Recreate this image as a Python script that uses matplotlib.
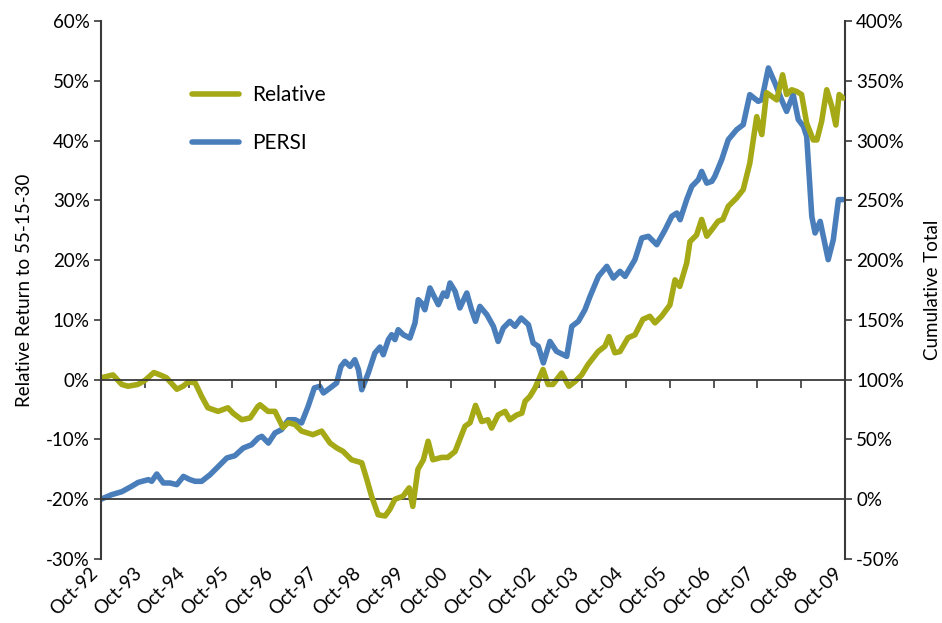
import matplotlib
matplotlib.use("Agg")
import matplotlib.pyplot as plt
from matplotlib.ticker import FuncFormatter, MultipleLocator

plt.rcParams['font.family'] = ['Lato', 'DejaVu Sans']

# months since Oct-92 and relative return to 55-15-30 (%), left axis
rel_month = [0, 3.3, 5.7, 7.4, 10.1, 12.1, 14.5, 16.6, 18, 20.8, 22.5, 23.9, 25.8,
             27.6, 29.3, 32.1, 34.8, 36.2, 38.6, 40.9, 43, 43.6, 45.8, 47.7, 49.9,
             51.3, 53.2, 55, 58.1, 60.5, 62.8, 64.6, 66.4, 68.7, 71.5, 72.9, 74.2,
             76, 77.9, 79.2, 80.6, 82.8, 84.5, 85.5, 86.9, 88.4, 89.7, 91, 93.4,
             95.1, 97.1, 99.8, 101.2, 102.7, 104.4, 106.1, 107.1, 108.9, 110.8,
             112.1, 114, 115.4, 116.3, 117.6, 119, 121.2, 122.6, 123.9, 126.3,
             128.3, 130, 131.8, 133.5, 136.3, 138.2, 139.3, 140.9, 142.3, 144.5,
             146.4, 148.6, 150.5, 151.9, 153.7, 156, 157.4, 158.7, 160.6, 161.5,
             163.3, 164.7, 166.1, 167.5, 169.2, 170.5, 172, 174.3, 176.1, 177.9,
             179.8, 181.2, 182.5, 183.9, 185.3, 186.9, 188, 189.4, 190.8, 192.1,
             193.5, 195.3, 196.3, 197.6, 199, 200.4, 201.5, 202.4, 203.5]
rel_value = [0.3, 0.8, -0.8, -1.1, -0.8, -0.1, 1.2, 0.7, 0.3, -1.6, -1.1, -0.4, -0.5,
             -2.8, -4.7, -5.3, -4.7, -5.6, -6.7, -6.4, -4.5, -4.2, -5.3, -5.3, -8.0,
             -7.2, -7.5, -8.6, -9.2, -8.6, -10.6, -11.4, -12.0, -13.4, -13.9, -16.7,
             -19.5, -22.6, -22.8, -21.7, -20.0, -19.5, -18.1, -21.2, -15.0, -13.4,
             -10.3, -13.4, -13.0, -13.0, -12.0, -7.8, -7.2, -4.3, -7.0, -6.7, -8.1,
             -5.9, -5.3, -6.7, -5.9, -5.6, -3.6, -2.8, -1.4, 1.7, -0.8, -0.8, 1.1,
             -1.1, -0.3, 0.8, 2.5, 4.7, 5.6, 7.2, 4.5, 4.7, 7.0, 7.5, 10.1, 10.6,
             9.5, 10.6, 12.5, 16.7, 15.6, 19.5, 23.1, 24.2, 26.8, 24.0, 25.1, 26.5,
             26.8, 29.0, 30.4, 31.8, 36.2, 44.0, 41.0, 48.0, 47.4, 46.8, 51.0, 47.7,
             48.5, 48.2, 47.7, 42.9, 40.1, 40.1, 43.2, 48.5, 45.7, 42.6, 47.7, 47.1]

# months since Oct-92 and PERSI cumulative total (%), right axis
persi_month = [0, 2.9, 5.7, 8.4, 10.2, 13, 13.9, 15.3, 17.1, 18.9, 20.8, 22.6, 24.4,
               25.8, 27.6, 29.9, 32.2, 34.5, 36.7, 39, 41.3, 43.1, 44.1, 45.9, 47.7,
               49.5, 51.4, 53.2, 55, 56.8, 58.5, 60, 61, 62.8, 64.6, 65.8, 66.9, 68.3,
               69.6, 70.6, 71.5, 73.3, 75.1, 76.5, 77.4, 78.8, 79.7, 80.6, 81.5, 82.9,
               84.7, 86.1, 87, 87.9, 88.8, 90.2, 91.1, 92.5, 93.9, 94.8, 95.7, 97.1,
               98.4, 100.3, 101.6, 102.7, 103.9, 105.8, 107.6, 108.9, 110.3, 112.1,
               113.5, 115.2, 117.2, 118.5, 119.9, 121.3, 123.1, 124.9, 127.7, 129.1,
               130.9, 132.7, 134.1, 136.4, 138.7, 140.5, 142.3, 143.7, 146.4, 148.3,
               150.1, 152.4, 154.7, 156.5, 157.9, 158.8, 160.6, 162, 163.8, 164.7,
               166.1, 167.5, 168.3, 170.2, 172, 174.3, 176.1, 177.9, 180.2, 181.2,
               183, 184.8, 186.6, 188, 189.8, 191.2, 192.6, 193.5, 194.9, 195.8,
               197.2, 199.4, 200.8, 202.2, 203.5]
persi_value = [0.0, 3.8, 6.3, 10.8, 14.1, 16.4, 15.0, 21.1, 13.6, 13.6, 12.2, 19.1,
               16.4, 15.0, 15.0, 20.5, 27.5, 34.5, 36.4, 42.8, 45.6, 51.2, 52.6, 47.0,
               55.4, 58.2, 66.5, 66.5, 63.8, 77.7, 93.1, 94.4, 88.9, 93.0, 97.2, 111.1,
               115.3, 111.1, 116.7, 108.4, 91.6, 105.6, 122.3, 127.3, 120.9, 133.5,
               137.6, 133.5, 141.8, 137.6, 134.8, 147.4, 166.9, 164.1, 158.5, 176.7,
               171.1, 162.7, 172.5, 169.7, 180.9, 173.9, 160.0, 172.5, 158.5, 148.8,
               161.3, 154.4, 144.6, 132.0, 143.2, 148.8, 144.6, 151.6, 146.0, 130.7,
               127.9, 114.0, 132.0, 123.7, 119.5, 144.6, 148.8, 158.5, 169.7, 186.4,
               194.8, 185.0, 190.6, 186.4, 200.4, 218.5, 219.9, 212.9, 225.5, 236.6,
               239.4, 233.8, 250.6, 261.7, 267.3, 274.2, 264.4, 265.9, 270.0, 284.0,
               300.7, 309.1, 313.3, 338.4, 332.8, 334.2, 360.7, 348.1, 334.2, 324.4,
               338.4, 317.5, 311.9, 303.5, 236.6, 222.7, 232.4, 200.4, 217.1, 250.6,
               250.6]

tick_labels = ['Oct-92', 'Oct-93', 'Oct-94', 'Oct-95', 'Oct-96', 'Oct-97', 'Oct-98',
               'Oct-99', 'Oct-00', 'Oct-01', 'Oct-02', 'Oct-03', 'Oct-04', 'Oct-05',
               'Oct-06', 'Oct-07', 'Oct-08', 'Oct-09']

START = 1992.75
GREEN = '#A5A915'
BLUE = '#4A7EBB'
DARK = '#3a3a3a'
FS = 13.5

rel_x = [START + m / 12 for m in rel_month]
persi_x = [START + m / 12 for m in persi_month]
ticks = [START + i for i in range(len(tick_labels))]

fig = plt.figure(figsize=(9.42, 6.23), dpi=100)
ax = fig.add_axes([0.1072, 0.1027, 0.7898, 0.8636])
ax2 = ax.twinx()

pct = FuncFormatter(lambda v, _: f'{v:.0f}%')

ax2.plot(persi_x, persi_value, color=BLUE, lw=4, solid_capstyle='round',
         solid_joinstyle='round', label='PERSI')
ax.plot(rel_x, rel_value, color=GREEN, lw=4, solid_capstyle='round',
        solid_joinstyle='round', label='Relative')

ax.set_zorder(ax2.get_zorder() + 1)
ax.patch.set_visible(False)

ax.set_xlim(ticks[0], ticks[-1])
ax.set_ylim(-30, 60)
ax2.set_ylim(-50, 400)
ax.yaxis.set_major_locator(MultipleLocator(10))
ax2.yaxis.set_major_locator(MultipleLocator(50))
ax.yaxis.set_major_formatter(pct)
ax2.yaxis.set_major_formatter(pct)

ax.axhline(-20, color=DARK, lw=1.3, zorder=1)

for s in ['top', 'right']:
    ax.spines[s].set_visible(False)
for s in ['top', 'left', 'bottom']:
    ax2.spines[s].set_visible(False)
ax.spines['bottom'].set_position(('data', 0))
for sp in [ax.spines['left'], ax.spines['bottom'], ax2.spines['right']]:
    sp.set_color(DARK)
    sp.set_linewidth(1.5)
ax.spines['bottom'].set_linewidth(1.3)

ax.set_xticks(ticks)
ax.tick_params(axis='x', direction='out', length=6, width=1.2, color=DARK,
               labelbottom=False)
ax.tick_params(axis='y', direction='out', length=5, width=1.2, color=DARK,
               labelsize=FS, pad=3)
ax2.tick_params(axis='y', direction='out', length=5, width=1.2, color=DARK,
                labelsize=FS, pad=3)

sec = ax.secondary_xaxis('bottom')
sec.set_xticks(ticks)
sec.set_xticklabels(tick_labels, rotation=45, ha='right', fontsize=FS)
sec.tick_params(length=0, pad=4)
sec.spines['bottom'].set_visible(False)

ax.set_ylabel('Relative Return to 55-15-30', fontsize=FS, labelpad=9)
ax2.set_ylabel('Cumulative Total', fontsize=FS, labelpad=14)

h1, l1 = ax.get_legend_handles_labels()
h2, l2 = ax2.get_legend_handles_labels()
ax.legend(h1 + h2, l1 + l2, loc='upper left', bbox_to_anchor=(0.108, 0.9),
          frameon=False, fontsize=15, handlelength=2.25, handletextpad=0.65,
          labelspacing=1.35, borderpad=0)

fig.savefig('out.png', dpi=100)
